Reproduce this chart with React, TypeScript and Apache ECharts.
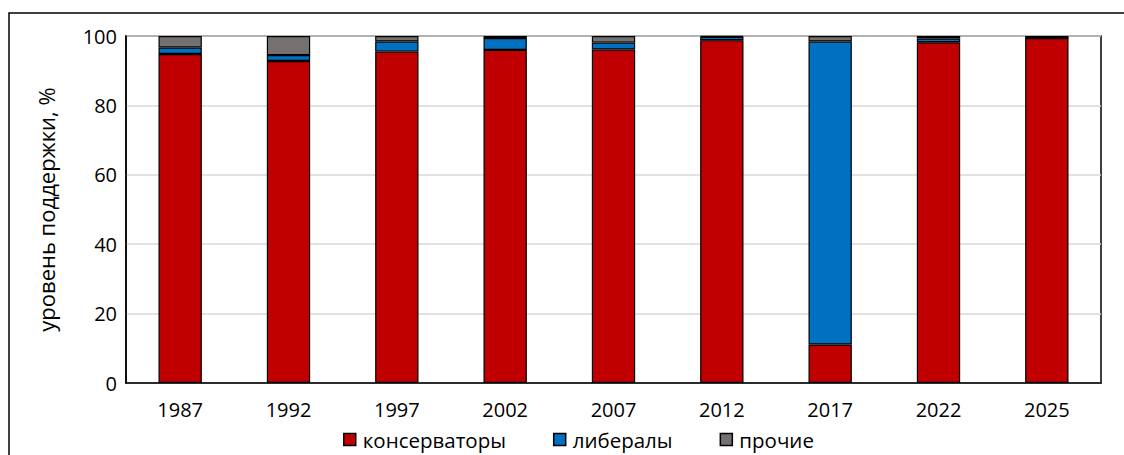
import React, { useEffect, useRef } from "react";
import * as echarts from "echarts";

const years = ["1987", "1992", "1997", "2002", "2007", "2012", "2017", "2022", "2025"];
const conservatives = [94.8, 92.8, 95.5, 96.0, 96.1, 98.8, 11.1, 98.2, 99.4];
const liberals = [1.9, 1.7, 2.9, 3.4, 2.0, 1.0, 87.3, 1.1, 0];
const others = [3.3, 5.5, 1.6, 0.6, 1.9, 0.2, 1.6, 0.7, 0.6];
const seriesNames = ["консерваторы", "либералы", "прочие"];
const colors = ["#C00000", "#0070C0", "#767171"];

const FONT = "'Open Sans', sans-serif";

export default function App() {
  const ref = useRef<HTMLDivElement>(null);
  useEffect(() => {
    document.body.style.margin = "0";
    const chart = echarts.init(ref.current!, null, { renderer: "svg" });
    const dataSets = [conservatives, liberals, others];
    chart.setOption({
      animation: false,
      textStyle: { fontFamily: FONT },
      graphic: [
        {
          type: "rect",
          shape: { x: 9, y: 13, width: 1200, height: 600 },
          style: { fill: "none", stroke: "#000", lineWidth: 1.5 },
          silent: true,
        },
      ],
      grid: { left: 126, right: 23, top: 36, bottom: 72, show: true, borderColor: "#000", borderWidth: 1.5, backgroundColor: "transparent" },
      legend: {
        left: 338,
        top: 424,
        icon: "rect",
        itemWidth: 12,
        itemHeight: 12,
        itemGap: 47,
        data: seriesNames,
        textStyle: { fontFamily: FONT, fontSize: 20.5, color: "#000", padding: [0, 0, 0, 2] },
        itemStyle: { borderColor: "#000", borderWidth: 1.5 },
      },
      xAxis: {
        type: "category",
        data: years,
        axisLine: { lineStyle: { color: "#000", width: 1.5 } },
        axisTick: { show: false },
        axisLabel: { color: "#000", fontSize: 20, fontFamily: FONT, margin: 16 },
      },
      yAxis: {
        type: "value",
        min: 0,
        max: 100,
        interval: 20,
        name: "уровень поддержки, %",
        nameLocation: "middle",
        nameGap: 69,
        nameTextStyle: { color: "#000", fontSize: 22, fontFamily: FONT },
        axisLine: { show: true, lineStyle: { color: "#000", width: 1.5 } },
        axisTick: { show: false },
        axisLabel: { color: "#000", fontSize: 20, fontFamily: FONT, margin: 9 },
        splitLine: { lineStyle: { color: "#d9d9d9", width: 1.5 } },
      },
      series: seriesNames.map((name, i) => ({
        name,
        type: "bar",
        stack: "total",
        barWidth: "40%",
        data: dataSets[i],
        itemStyle: { color: colors[i], borderColor: "#000", borderWidth: 1.2 },
      })),
    });
    return () => chart.dispose();
  }, []);
  return <div ref={ref} style={{ width: 1124, height: 455 }} />;
}
